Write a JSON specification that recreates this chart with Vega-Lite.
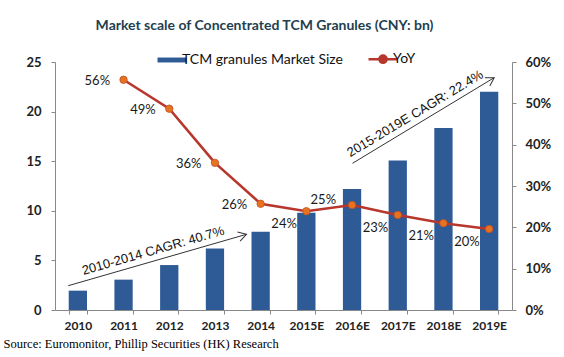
{
  "$schema": "https://vega.github.io/schema/vega-lite/v6.json",
  "width": 457,
  "height": 248,
  "autosize": {"type": "none"},
  "padding": {"left": 55, "top": 62, "right": 52, "bottom": 47},
  "background": "white",
  "title": {
    "text": "Market scale of Concentrated TCM Granules (CNY: bn)",
    "anchor": "middle",
    "dx": -19,
    "offset": 19,
    "font": "Lato",
    "fontSize": 14,
    "fontWeight": "bold",
    "color": "#1E3F50"
  },
  "config": {
    "view": {"stroke": null},
    "axis": {
      "grid": false,
      "domainColor": "#888888",
      "tickColor": "#888888",
      "tickSize": 4,
      "labelFont": "Lato",
      "labelFontSize": 12,
      "labelFontWeight": "bold",
      "labelColor": "#222222"
    },
    "legend": {"labelFont": "Lato", "labelFontSize": 14, "labelColor": "#111111", "labelLimit": 300}
  },
  "layer": [
    {
      "data": {
        "values": [
          {"year": "2010", "size": 1.95, "yoy": null},
          {"year": "2011", "size": 3.06, "yoy": 0.557},
          {"year": "2012", "size": 4.53, "yoy": 0.487},
          {"year": "2013", "size": 6.2, "yoy": 0.356},
          {"year": "2014", "size": 7.9, "yoy": 0.257},
          {"year": "2015E", "size": 9.8, "yoy": 0.239},
          {"year": "2016E", "size": 12.2, "yoy": 0.254},
          {"year": "2017E", "size": 15.06, "yoy": 0.23},
          {"year": "2018E", "size": 18.35, "yoy": 0.21},
          {"year": "2019E", "size": 22.0, "yoy": 0.196}
        ]
      },
      "encoding": {
        "x": {
          "field": "year",
          "type": "nominal",
          "sort": null,
          "scale": {"domain": ["2010","2011","2012","2013","2014","2015E","2016E","2017E","2018E","2019E"], "paddingInner": 0.6, "paddingOuter": 0.3},
          "axis": {
            "labelAngle": 0,
            "labelPadding": 6,
            "tickBand": "extent",
            "title": "Source: Euromonitor, Phillip Securities (HK) Research",
            "titleFont": "Liberation Serif",
            "titleFontSize": 12.5,
            "titleFontWeight": "normal",
            "titleColor": "#000000",
            "titleAlign": "left",
            "titleAnchor": "start",
            "titleBaseline": "alphabetic",
            "titleX": -52,
            "titleY": 37
          }
        }
      },
      "layer": [
        {
          "mark": {"type": "bar"},
          "encoding": {
            "y": {
              "field": "size",
              "type": "quantitative",
              "scale": {"domain": [0, 25], "nice": false},
              "axis": {"orient": "left", "values": [0,5,10,15,20,25], "title": null, "labelPadding": 10, "labelFontSize": 13}
            },
            "color": {
              "datum": "TCM granules Market Size",
              "scale": {"domain": ["TCM granules Market Size", "YoY"], "range": ["#2E5A96", "#B8372D"]},
              "legend": {
                "orient": "none",
                "legendX": 110,
                "legendY": -10,
                "direction": "horizontal",
                "title": null,
                "padding": 0,
                "symbolSize": 841,
                "labelOffset": 3,
                "columnPadding": 20,
                "labelLimit": 300,
                "encode": {
                  "symbols": {
                    "update": {
                      "shape": {"signal": "datum.value === 'YoY' ? 'M-1,0H1M-0.25,0A0.25,0.25 0 1,0 0.25,0A0.25,0.25 0 1,0 -0.25,0' : 'M-1,-0.17H1V0.17H-1Z'"},
                      "fill": {"signal": "datum.value === 'YoY' ? '#E8731E' : '#2E5A96'"},
                      "stroke": {"signal": "datum.value === 'YoY' ? '#B8372D' : null"},
                      "strokeWidth": {"signal": "datum.value === 'YoY' ? 2.5 : 0"},
                      "opacity": {"value": 1},
                      "fillOpacity": {"value": 1}
                    }
                  }
                }
              }
            }
          }
        },
        {
          "transform": [{"filter": "datum.yoy != null"}],
          "layer": [
            {
              "mark": {"type": "line", "strokeWidth": 2.6},
              "encoding": {
                "y": {
                  "field": "yoy",
                  "type": "quantitative",
                  "scale": {"domain": [0, 0.6], "nice": false},
                  "axis": {"orient": "right", "values": [0,0.1,0.2,0.3,0.4,0.5,0.6], "format": ".0%", "title": null, "labelPadding": 9, "labelFontSize": 13}
                },
                "color": {"datum": "YoY"}
              }
            },
            {
              "mark": {"type": "point", "filled": true, "size": 55, "color": "#E8731E", "stroke": "#C0502A", "strokeWidth": 0.8, "opacity": 1},
              "encoding": {"y": {"field": "yoy", "type": "quantitative"}}
            },
            {
              "transform": [{"filter": {"field": "year", "oneOf": ["2011","2012","2013","2014"]}}],
              "mark": {"type": "text", "align": "right", "baseline": "middle", "dx": -13.5, "dy": 1.5, "font": "Lato", "fontSize": 13, "color": "#1a1a1a"},
              "encoding": {"y": {"field": "yoy", "type": "quantitative"}, "text": {"field": "yoy", "type": "quantitative", "format": ".0%"}}
            },
            {
              "transform": [{"filter": {"field": "year", "oneOf": ["2015E","2017E","2018E","2019E"]}}],
              "mark": {"type": "text", "align": "right", "baseline": "middle", "dx": -9.5, "dy": 13, "font": "Lato", "fontSize": 13, "color": "#1a1a1a"},
              "encoding": {"y": {"field": "yoy", "type": "quantitative"}, "text": {"field": "yoy", "type": "quantitative", "format": ".0%"}}
            },
            {
              "transform": [{"filter": {"field": "year", "oneOf": ["2016E"]}}],
              "mark": {"type": "text", "align": "right", "baseline": "middle", "dx": -16, "dy": -5, "font": "Lato", "fontSize": 13, "color": "#1a1a1a"},
              "encoding": {"y": {"field": "yoy", "type": "quantitative"}, "text": {"field": "yoy", "type": "quantitative", "format": ".0%"}}
            }
          ]
        }
      ],
      "resolve": {"scale": {"y": "independent"}}
    },
    {
      "data": {
        "values": [
          {"arrow": "a1", "x0": 0.29, "y0": 2.45, "x1": 4.19, "y1": 7.63, "xm": 2.24, "ym": 5.04, "label": "2010-2014 CAGR: 40.7%"},
          {"arrow": "a2", "x0": 6.51, "y0": 14.79, "x1": 9.61, "y1": 23.42, "xm": 8.06, "ym": 19.105, "label": "2015-2019E  CAGR: 22.4%"}
        ]
      },
      "layer": [
        {
          "mark": {"type": "rule", "color": "#333333", "strokeWidth": 1},
          "encoding": {
            "x": {"field": "x0", "type": "quantitative", "scale": {"domain": [0, 10], "nice": false, "zero": false}, "axis": null},
            "x2": {"field": "x1"},
            "y": {"field": "y0", "type": "quantitative", "scale": {"domain": [0, 25], "nice": false, "zero": false}, "axis": null},
            "y2": {"field": "y1"}
          }
        },
        {
          "transform": [{"filter": "datum.arrow === 'a1'"}],
          "layer": [
            {
              "mark": {"type": "point", "shape": "M-1,-0.6L0,0L-1,0.6", "filled": false, "size": 256, "angle": 344, "color": "#333333", "strokeWidth": 1, "opacity": 1},
              "encoding": {"x": {"field": "x1", "type": "quantitative"}, "y": {"field": "y1", "type": "quantitative"}}
            },
            {
              "mark": {"type": "text", "angle": 344, "align": "center", "baseline": "alphabetic", "dx": -1.5, "dy": -6, "font": "Liberation Sans", "fontSize": 13, "color": "#111111"},
              "encoding": {"x": {"field": "xm", "type": "quantitative"}, "y": {"field": "ym", "type": "quantitative"}, "text": {"field": "label"}}
            }
          ]
        },
        {
          "transform": [{"filter": "datum.arrow === 'a2'"}],
          "layer": [
            {
              "mark": {"type": "point", "shape": "M-1,-0.6L0,0L-1,0.6", "filled": false, "size": 256, "angle": 329, "color": "#333333", "strokeWidth": 1, "opacity": 1},
              "encoding": {"x": {"field": "x1", "type": "quantitative"}, "y": {"field": "y1", "type": "quantitative"}}
            },
            {
              "mark": {"type": "text", "angle": 329, "align": "center", "baseline": "alphabetic", "dx": -3.5, "dy": -6, "font": "Liberation Sans", "fontSize": 13, "color": "#111111"},
              "encoding": {"x": {"field": "xm", "type": "quantitative"}, "y": {"field": "ym", "type": "quantitative"}, "text": {"field": "label"}}
            }
          ]
        }
      ]
    }
  ],
  "resolve": {"scale": {"x": "independent", "y": "independent"}}
}
